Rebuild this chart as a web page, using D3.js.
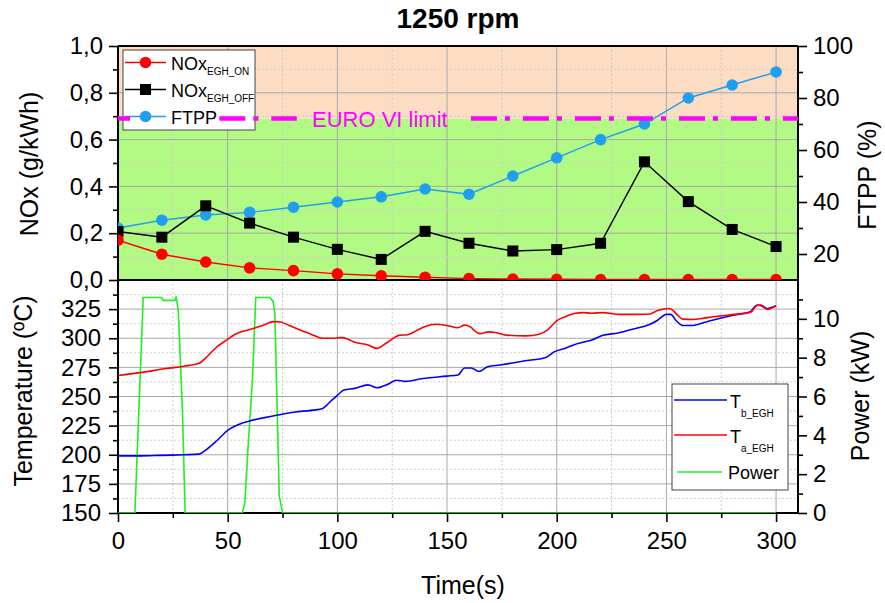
<!DOCTYPE html>
<html lang="en">
<head>
<meta charset="UTF-8">
<title>1250 rpm</title>
<style>
    body,
    html {
        margin: 0;
        padding: 0;
        background: #fff;
    }
    svg text {
        font-family: "Liberation Sans", Arial, sans-serif;
    }
</style>
<script src="https://cdn.jsdelivr.net/npm/d3@7"></script>
</head>
<body>
<div id="chart"></div>
<script>
// ---- data ----
// upper panel, one point every 20 s
const stepTime = [0, 20, 40, 60, 80, 100, 120, 140, 160, 180, 200, 220, 240, 260, 280, 300];
const noxOn = [0.17, 0.11, 0.077, 0.052, 0.04, 0.026, 0.018, 0.012, 0.006, 0.004, 0.003, 0.002, 0.002, 0.002, 0.002, 0.002];
const noxOff = [0.207, 0.183, 0.317, 0.243, 0.183, 0.131, 0.088, 0.208, 0.157, 0.124, 0.130, 0.157, 0.505, 0.335, 0.216, 0.143];
const ftpp = [30, 33, 35, 36, 38, 40, 42, 45, 43, 50, 57, 64, 70, 80, 85, 90];
const euroLimit = 0.69;
// pieces of the limit line that are drawn (time, s)
const limitPieces = [[0, 5.5], [46.2, 81.5], [160.9, 310]];

// lower panel, [time, value]
const tBefore = [[0,199],[10,199],[20,199.5],[30,200],[37,200.5],[40,204],[45,212],[50,221],[55,226],[60,229],[70,233],
    [80,236.5],[90,238.5],[93,239.5],[97,246],[100,251],[103,255.5],[108,257],[114,260],[118,257.5],[123,260.5],[127,264],
    [131,263],[139,265.5],[150,267.5],[155,268.5],[158,274.5],[161,274.5],[164.5,271.5],[168.5,275.5],[174,277],[185,280.5],
    [195,283.5],[199,288.5],[204,291.5],[208,294.5],[212,296.5],[216,298.5],[221,302.5],[228,304.5],[235,308],[242,311.5],
    [246,315.5],[250,320.5],[252,320.5],[254.5,315],[257.5,311],[262,311],[268,314],[274,317],[281,320],[288,322.5],
    [291,328],[293,328.5],[296,325.5],[298,326.5],[300,328]];
const tAfter = [[0,268],[10,270.5],[22,274],[30,276],[37,278.5],[41,285],[45,292.5],[50,299],[53,303],[58,306.5],[62,308.5],
    [66,311],[71,314.3],[74,314],[78,311],[83,307],[88,303.5],[93,300],[98,300],[102,300.5],[105,299],[108,296.5],[114,294.2],
    [118,291.3],[122,295.5],[126,300.5],[128,302.5],[132,303],[136,306.5],[140,310],[145,312],[150,311],[155,309],[158,311.3],
    [160.5,310],[162.5,306.5],[165,304],[169,305.5],[172,305],[177,302.7],[186,302],[192,303.5],[196,307.5],[200,315],
    [204,318.5],[208,321.3],[212,322],[216,321.5],[221,322],[228.5,320.5],[236,320.5],[242,320.6],[246,323.8],[251,325.6],
    [253,324],[255,320],[257.5,316.4],[262,316.1],[268,317.5],[274,319],[281,320.5],[288.5,322.3],[291.5,328.5],[293,328],
    [296,324.8],[298,326],[300,327.7]];
const power = [[0,0],[7.7,0],[11.5,11.1],[19.9,11.1],[20.5,10.95],[25.9,10.95],[26.5,11.15],[27.5,10.4],[29.4,5.2],[30.6,0],
    [56.7,0],[57.8,0.5],[59.3,3.4],[61.3,6.9],[62.8,11.1],[69.2,11.1],[70.7,10.9],[71.5,10.3],[72.6,5.2],[73.5,0.9],[75,0],[300,0]];

// tick values
const xMajor = [0, 50, 100, 150, 200, 250, 300];
const xMinor = [25, 75, 125, 175, 225, 275];
const noxMajor = [0, 0.2, 0.4, 0.6, 0.8, 1.0];
const noxMinor = [0.1, 0.3, 0.5, 0.7, 0.9];
const ftppMajor = [20, 40, 60, 80, 100];
const ftppMinor = [30, 50, 70, 90];
const tempMajor = [150, 175, 200, 225, 250, 275, 300, 325];
const tempMinor = [162.5, 187.5, 212.5, 237.5, 262.5, 287.5, 312.5, 337.5];
const powMajor = [0, 2, 4, 6, 8, 10];
const powMinor = [1, 3, 5, 7, 9, 11];

(function () {
    const width = 885, height = 603;
    const L = 118, R = 798, T = 46, M = 280, B = 513;

    const svg = d3.select('#chart').append('svg')
        .attr('width', width).attr('height', height);

    const x = d3.scaleLinear().domain([0, 310]).range([L, R]);
    const yNox = d3.scaleLinear().domain([0, 1]).range([M, T]);
    const yFtpp = d3.scaleLinear().domain([10, 100]).range([M, T]);
    const yTemp = d3.scaleLinear().domain([150, 350]).range([B, M]);
    const yPow = d3.scaleLinear().domain([0, 12]).range([B, M]);

    const defs = svg.append('defs');
    defs.append('clipPath').attr('id', 'clipTop').append('rect')
        .attr('x', L).attr('y', T).attr('width', R - L).attr('height', M - T);
    defs.append('clipPath').attr('id', 'clipBot').append('rect')
        .attr('x', L).attr('y', M).attr('width', R - L).attr('height', B - M);

    // background zones
    svg.append('rect').attr('x', L).attr('y', T).attr('width', R - L)
        .attr('height', yNox(euroLimit) - T).attr('fill', '#fcdcc3');
    svg.append('rect').attr('x', L).attr('y', yNox(euroLimit)).attr('width', R - L)
        .attr('height', M - yNox(euroLimit)).attr('fill', '#b3fa84');

    // grids
    function vgrid(y0, y1) {
        xMajor.concat(xMinor).filter(d => d > 0).forEach(d => {
            const major = xMajor.includes(d);
            svg.append('line').attr('x1', x(d)).attr('x2', x(d)).attr('y1', y0).attr('y2', y1)
                .attr('stroke', major ? '#a9a9a9' : '#cdcdcd')
                .attr('stroke-width', 1)
                .attr('stroke-dasharray', major ? null : '2,2');
        });
    }
    function hgrid(scale, majors, minors) {
        majors.concat(minors).forEach(d => {
            const major = majors.includes(d);
            svg.append('line').attr('x1', L).attr('x2', R).attr('y1', scale(d)).attr('y2', scale(d))
                .attr('stroke', major ? '#a9a9a9' : '#cdcdcd')
                .attr('stroke-width', 1)
                .attr('stroke-dasharray', major ? null : '2,2');
        });
    }
    vgrid(T, M);
    vgrid(M, B);
    hgrid(yNox, noxMajor.slice(1, -1), noxMinor);
    hgrid(yTemp, tempMajor.slice(1), tempMinor);

    // axes
    const comma = d => d3.format('.1f')(d).replace('.', ',');
    function drawAxis(gen, tx, ty) {
        const g = svg.append('g').attr('transform', `translate(${tx},${ty})`).call(gen);
        g.select('.domain').remove();
        g.selectAll('.tick line').attr('stroke', '#000').attr('stroke-width', 1.6);
        g.selectAll('.tick text').attr('fill', '#000').style('font-size', '24px')
            .style('font-family', '"Liberation Sans", Arial, sans-serif');
        return g;
    }
    drawAxis(d3.axisLeft(yNox).tickValues(noxMajor).tickSize(9).tickPadding(6).tickFormat(comma), L, 0);
    drawAxis(d3.axisLeft(yNox).tickValues(noxMinor).tickSize(5).tickFormat(''), L, 0);
    drawAxis(d3.axisRight(yFtpp).tickValues(ftppMajor).tickSize(9).tickPadding(6), R, 0);
    drawAxis(d3.axisRight(yFtpp).tickValues(ftppMinor).tickSize(5).tickFormat(''), R, 0);
    drawAxis(d3.axisLeft(yTemp).tickValues(tempMajor).tickSize(9).tickPadding(8), L, 0);
    drawAxis(d3.axisLeft(yTemp).tickValues(tempMinor).tickSize(5).tickFormat(''), L, 0);
    drawAxis(d3.axisRight(yPow).tickValues(powMajor).tickSize(9).tickPadding(6), R, 0);
    drawAxis(d3.axisRight(yPow).tickValues(powMinor).tickSize(5).tickFormat(''), R, 0);
    drawAxis(d3.axisBottom(x).tickValues(xMajor).tickSize(9).tickPadding(10), 0, B);
    drawAxis(d3.axisBottom(x).tickValues(xMinor).tickSize(5).tickFormat(''), 0, B);

    // frame
    [[L, T, L, B], [R, T, R, B], [L, T, R, T], [L, M, R, M], [L, B, R, B]].forEach(s => {
        svg.append('line').attr('x1', s[0]).attr('y1', s[1]).attr('x2', s[2]).attr('y2', s[3])
            .attr('stroke', '#000').attr('stroke-width', 2);
    });

    // upper panel data
    const top = svg.append('g').attr('clip-path', 'url(#clipTop)');
    const ftppColor = '#1e9ff0';
    function series(g, yScale, values, color, shape) {
        const pts = stepTime.map((t, i) => [x(t), yScale(values[i])]);
        g.append('path').attr('d', d3.line()(pts)).attr('fill', 'none')
            .attr('stroke', color).attr('stroke-width', 1.4);
        pts.forEach(p => {
            if (shape === 'square') {
                g.append('rect').attr('x', p[0] - 5.5).attr('y', p[1] - 5.5)
                    .attr('width', 11).attr('height', 11).attr('fill', color);
            } else {
                g.append('circle').attr('cx', p[0]).attr('cy', p[1]).attr('r', 5.8).attr('fill', color);
            }
        });
    }
    series(top, yFtpp, ftpp, ftppColor, 'circle');
    series(top, yNox, noxOff, '#000', 'square');
    series(top, yNox, noxOn, '#ff0000', 'circle');

    // lower panel data
    const bot = svg.append('g').attr('clip-path', 'url(#clipBot)');
    bot.append('path').attr('d', d3.line().x(d => x(d[0])).y(d => yPow(d[1]))(power))
        .attr('fill', 'none').attr('stroke', '#22ee22').attr('stroke-width', 1.6);
    bot.append('path').attr('d', d3.line().curve(d3.curveMonotoneX).x(d => x(d[0])).y(d => yTemp(d[1]))(tBefore))
        .attr('fill', 'none').attr('stroke', '#0000ff').attr('stroke-width', 1.6);
    bot.append('path').attr('d', d3.line().curve(d3.curveMonotoneX).x(d => x(d[0])).y(d => yTemp(d[1]))(tAfter))
        .attr('fill', 'none').attr('stroke', '#ff0000').attr('stroke-width', 1.6);

    // upper legend
    const lg = svg.append('g');
    lg.append('rect').attr('x', 123).attr('y', 50).attr('width', 132).attr('height', 80)
        .attr('fill', '#fff').attr('stroke', '#444').attr('stroke-width', 1);
    const topItems = [
        {c: '#ff0000', s: 'circle', t: 'NOx', sub: 'EGH_ON'},
        {c: '#000', s: 'square', t: 'NOx', sub: 'EGH_OFF'},
        {c: ftppColor, s: 'circle', t: 'FTPP', sub: ''}
    ];
    topItems.forEach((d, i) => {
        const yy = 62.5 + i * 27;
        lg.append('line').attr('x1', 125).attr('x2', 166).attr('y1', yy).attr('y2', yy)
            .attr('stroke', d.c).attr('stroke-width', 1.4);
        if (d.s === 'square') {
            lg.append('rect').attr('x', 140).attr('y', yy - 5.5).attr('width', 11).attr('height', 11).attr('fill', d.c);
        } else {
            lg.append('circle').attr('cx', 145.5).attr('cy', yy).attr('r', 5.8).attr('fill', d.c);
        }
        const tx = lg.append('text').attr('x', 171).attr('y', yy + 7.5).style('font-size', '18px').text(d.t);
        if (d.sub) tx.append('tspan').attr('dy', 4.5).style('font-size', '10px').text(d.sub);
    });

    // EURO VI limit line
    const yl = yNox(euroLimit);
    limitPieces.forEach((p, i) => {
        svg.append('line').attr('x1', x(p[0])).attr('x2', x(p[1])).attr('y1', yl).attr('y2', yl)
            .attr('stroke', '#ff00ff').attr('stroke-width', 4.5)
            .attr('stroke-dasharray', i === 0 ? null : '26,8,5,13');
    });
    svg.append('text').attr('x', 312).attr('y', yl + 8).attr('fill', '#ff00ff')
        .style('font-size', '22px').text('EURO VI limit');

    // lower legend
    const lb = svg.append('g');
    lb.append('rect').attr('x', 672).attr('y', 384).attr('width', 116).attr('height', 106)
        .attr('fill', '#fff').attr('stroke', '#444').attr('stroke-width', 1);
    const botItems = [
        {c: '#0000ff', t: 'T', sub: 'b_EGH', y: 400},
        {c: '#ff0000', t: 'T', sub: 'a_EGH', y: 435},
        {c: '#22ee22', t: 'Power', sub: '', y: 472}
    ];
    botItems.forEach(d => {
        const x1 = d.sub ? 674 : 677, x2 = d.sub ? 727 : 722;
        lb.append('line').attr('x1', x1).attr('x2', x2).attr('y1', d.y).attr('y2', d.y)
            .attr('stroke', d.c).attr('stroke-width', 1.6);
        const tx = lb.append('text').attr('x', d.sub ? 730 : 728).attr('y', d.y + (d.sub ? 8 : 6.5))
            .style('font-size', '18px').text(d.t);
        if (d.sub) tx.append('tspan').attr('dy', 8.5).style('font-size', '10px').text(d.sub);
    });

    // titles
    svg.append('text').attr('x', 458).attr('y', 28).attr('text-anchor', 'middle')
        .style('font-size', '28px').style('font-weight', 'bold').text('1250 rpm');
    const axisTitle = (tx, ty, rot, label) => svg.append('text')
        .attr('transform', `translate(${tx},${ty})` + (rot ? ' rotate(-90)' : ''))
        .attr('text-anchor', 'middle').style('font-size', '25px').text(label);
    axisTitle(38, 164, true, 'NOx (g/kWh)');
    axisTitle(32, 391, true, 'Temperature (ºC)');
    axisTitle(876, 175, true, 'FTPP (%)');
    axisTitle(869, 396, true, 'Power (kW)');
    axisTitle(463, 594, false, 'Time(s)');
}());
</script>
</body>
</html>
